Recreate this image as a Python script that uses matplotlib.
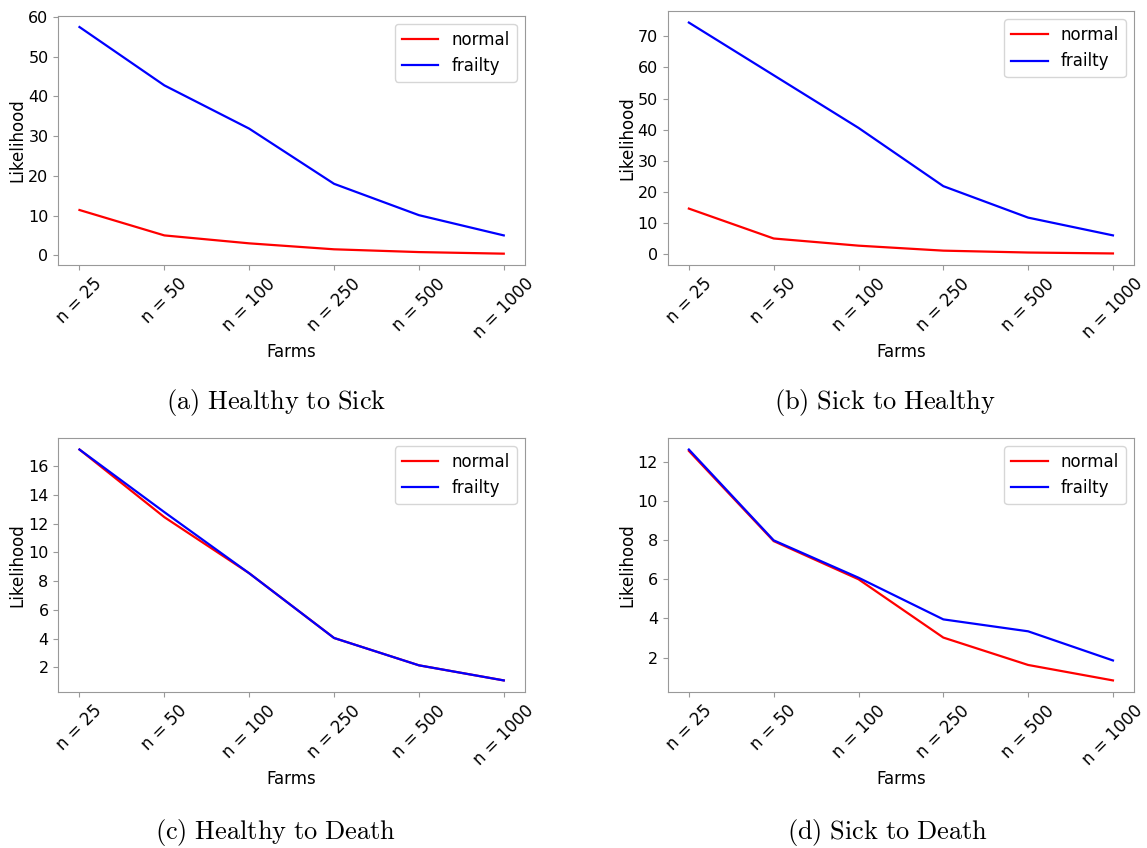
import matplotlib
matplotlib.use('Agg')
import matplotlib.pyplot as plt
from matplotlib.ticker import MultipleLocator

plt.rcParams['mathtext.fontset'] = 'cm'

# 데이터
farms = ['n = 25', 'n = 50', 'n = 100', 'n = 250', 'n = 500', 'n = 1000']

sick_normal = [11.4, 5.0, 3.0, 1.5, 0.8, 0.4]
sick_frailty = [57.5, 42.8, 31.9, 18.0, 10.1, 5.0]

healthy_normal = [14.7, 5.1, 2.8, 1.2, 0.6, 0.3]
healthy_frailty = [74.4, 57.5, 40.6, 21.9, 11.8, 6.1]

hdeath_normal = [17.15, 12.45, 8.55, 4.05, 2.15, 1.1]
hdeath_frailty = [17.15, 12.8, 8.55, 4.05, 2.15, 1.1]

sdeath_normal = [12.56, 7.95, 6.0, 3.02, 1.62, 0.83]
sdeath_frailty = [12.63, 7.99, 6.08, 3.95, 3.34, 1.85]

captions = [r'$\mathrm{(a)\ Healthy\ to\ Sick}$', r'$\mathrm{(b)\ Sick\ to\ Healthy}$',
            r'$\mathrm{(c)\ Healthy\ to\ Death}$', r'$\mathrm{(d)\ Sick\ to\ Death}$']

panels = [(sick_normal, sick_frailty, 10),
          (healthy_normal, healthy_frailty, 10),
          (hdeath_normal, hdeath_frailty, 2),
          (sdeath_normal, sdeath_frailty, 2)]

# 축 위치 (figure 비율)
positions = [[0.0508, 0.6875, 0.4069, 0.294],
             [0.5821, 0.6875, 0.4067, 0.2995],
             [0.0508, 0.184, 0.4069, 0.2995],
             [0.5821, 0.184, 0.4067, 0.2995]]
caption_xy = [(0.2406, 0.5248), (0.7716, 0.5248), (0.2398, 0.0177), (0.7733, 0.0177)]

fig = plt.figure(figsize=(11.47, 8.48), dpi=100)

for (normal, frailty, step), pos, cap, cxy in zip(panels, positions, captions, caption_xy):
    ax = fig.add_axes(pos)
    ax.plot(farms, normal, color='red', lw=1.6, label='normal')
    ax.plot(farms, frailty, color='blue', lw=1.6, label='frailty')
    ax.yaxis.set_major_locator(MultipleLocator(step))
    ax.set_xlabel('Farms', fontsize=12, labelpad=1)
    ax.set_ylabel('Likelihood', fontsize=12, labelpad=1)
    ax.tick_params(axis='y', labelsize=11.5)
    ax.tick_params(axis='x', labelsize=12)
    ax.tick_params(color='#999999')
    plt.setp(ax.get_xticklabels(), rotation=45)
    for s in ax.spines.values():
        s.set_color('#999999')
    ax.legend(fontsize=12, loc='upper right', handlelength=2.2)
    fig.text(cxy[0], cxy[1], cap, fontsize=19, ha='center', va='center')

fig.savefig('out.png', dpi=100)
